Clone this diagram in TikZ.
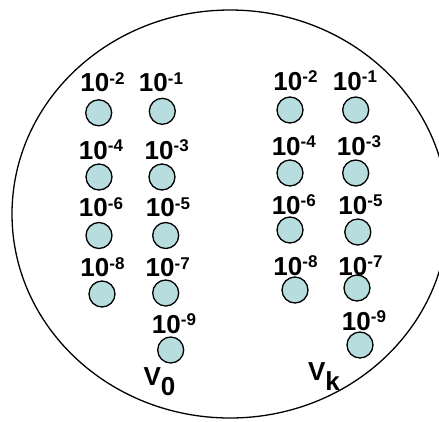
\documentclass[tikz,border=0pt]{standalone}
\usepackage{fontspec}
\setmainfont{Liberation Sans}[BoldFont={Liberation Sans Bold}]
\definecolor{beadfill}{RGB}{184,221,223}
\newcommand{\tenpow}[1]{\bfseries 10\raisebox{7.5pt}{\fontsize{17}{18}\selectfont\bfseries -#1}}
\newcommand{\vsub}[1]{\bfseries V\raisebox{-10pt}{\bfseries #1}}

\begin{document}
\begin{tikzpicture}[x=1pt,y=-1pt,
    bead/.style={circle,draw,line width=1.3pt,fill=beadfill,minimum size=26pt,inner sep=0pt},
    pow/.style={anchor=base,inner sep=0pt,font=\fontsize{26}{30}\selectfont\bfseries}]
    \useasboundingbox (0,0) rectangle (439,421);
    % Outer ellipse
    \draw[line width=1.3pt] (230,214) ellipse [x radius=218, y radius=204];

    % Left group V_0
    \begin{scope}
        \node[pow] (l2) at (102.5,91.7) {\tenpow{2}};
        \node[pow] (l1) at (161,91.7) {\tenpow{1}};
        \node[bead] (la2) at (98.7,112.8) {};
        \node[bead] (la1) at (162.3,111.3) {};
        \node[pow] (l4) at (101,159) {\tenpow{4}};
        \node[pow] (l3) at (166.7,159) {\tenpow{3}};
        \node[bead] (la4) at (99,177) {};
        \node[bead] (la3) at (162,177) {};
        \node[pow] (l6) at (101,216.7) {\tenpow{6}};
        \node[pow] (l5) at (168,216.7) {\tenpow{5}};
        \node[bead] (la6) at (99,235.5) {};
        \node[bead] (la5) at (165.7,235.5) {};
        \node[pow] (l8) at (102.5,276.7) {\tenpow{8}};
        \node[pow] (l7) at (167.7,276.7) {\tenpow{7}};
        \node[bead] (la8) at (102,294) {};
        \node[bead] (la7) at (165.7,293) {};
        \node[pow] (l9) at (174,333) {\tenpow{9}};
        \node[bead] (la9) at (170.7,350) {};
        \node[pow] (v0) at (159.5,385) {\vsub{0}};
    \end{scope}

    % Right group V_k
    \begin{scope}
        \node[pow] (r2) at (295.5,90) {\tenpow{2}};
        \node[pow] (r1) at (355,90) {\tenpow{1}};
        \node[bead] (ra2) at (290,110) {};
        \node[bead] (ra1) at (355.7,110) {};
        \node[pow] (r4) at (293.8,155) {\tenpow{4}};
        \node[pow] (r3) at (359,155) {\tenpow{3}};
        \node[bead] (ra4) at (290,173) {};
        \node[bead] (ra3) at (355.7,173) {};
        \node[pow] (r6) at (293.8,214.3) {\tenpow{6}};
        \node[pow] (r5) at (360.5,214.3) {\tenpow{5}};
        \node[bead] (ra6) at (290,230) {};
        \node[bead] (ra5) at (357.8,232) {};
        \node[pow] (r8) at (295.5,275) {\tenpow{8}};
        \node[pow] (r7) at (360.5,275) {\tenpow{7}};
        \node[bead] (ra8) at (295,290) {};
        \node[bead] (ra7) at (357,288) {};
        \node[pow] (r9) at (364,330) {\tenpow{9}};
        \node[bead] (ra9) at (360,345) {};
        \node[pow] (vk) at (324,380) {\vsub{k}};
    \end{scope}
\end{tikzpicture}
\end{document}
